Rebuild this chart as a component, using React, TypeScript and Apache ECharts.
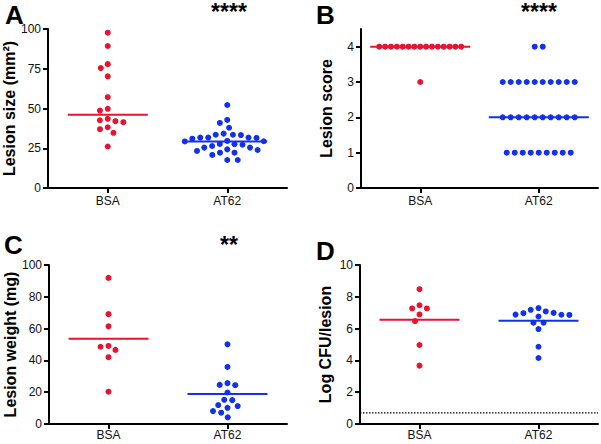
import React, { useEffect, useRef } from "react";
import * as echarts from "echarts";

// ---------- data ----------
const categories = ["BSA", "AT62"];

const sizeBSA = [97.7, 89.3, 77.9, 75.4, 70.2, 57.1, 49.8, 48.7, 43.5, 42.6, 42.0, 41.4, 38.2, 37.0, 34.7, 26.1];
const sizeAT62 = [52.2, 40.9, 42.8, 37.9, 33.5, 33.5, 34.2, 33.3, 31.7, 31.5, 31.7, 31.7, 31.0, 29.6, 29.3, 29.4,
  27.5, 26.4, 27.2, 27.7, 25.4, 23.9, 23.3, 24.3, 25.4, 22.2, 20.8, 22.2, 17.6, 17.6];
const sizeLines = [46.0, 29.3];

const scoreBSA = [4, 4, 4, 4, 4, 4, 4, 4, 4, 4, 4, 4, 4, 4, 4, 3];
const scoreAT62 = [4, 4, 3, 3, 3, 3, 3, 3, 3, 3, 3, 3, 2, 2, 2, 2, 2, 2, 2, 2, 2, 2, 1, 1, 1, 1, 1, 1, 1, 1, 1];
const scoreLines = [4, 2];

const weightBSA = [91.9, 69.1, 61.4, 48.6, 46.6, 49.1, 42.0, 20.3];
const weightAT62 = [50.1, 35.9, 24.6, 25.7, 24.4, 19.8, 15.2, 11.9, 15.0, 11.3, 10.2, 8.1, 7.1, 4.2];
const weightLines = [53.6, 18.8];

const cfuBSA = [8.48, 7.27, 7.27, 7.47, 6.89, 6.47, 4.97, 3.67];
const cfuAT62 = [7.18, 6.97, 6.87, 6.86, 6.88, 6.99, 7.08, 7.29, 6.37, 6.76, 6.37, 5.97, 4.86, 4.15];
const cfuLines = [6.56, 6.49];
const cfuDetectionLimit = 0.7;

const sizeTicks = [0, 25, 50, 75, 100];
const scoreTicks = [0, 1, 2, 3, 4];
const weightTicks = [0, 20, 40, 60, 80, 100];
const cfuTicks = [0, 2, 4, 6, 8, 10];

// ---------- styles ----------
const RED = "#e8132f";
const BLUE = "#1230ee";
const FONT = "Liberation Sans, Arial, Helvetica, sans-serif";
const DOT = 6;

// greedy beeswarm (pixel space), returns px offsets
function swarm(values: number[], pxPerUnit: number, dia: number): number[] {
  const order = values.map((_, i) => i).sort((a, b) => values[b] - values[a]);
  const placed: { x: number; y: number }[] = [];
  const out = new Array(values.length).fill(0);
  for (const i of order) {
    const y = values[i] * pxPerUnit;
    const cands = [0];
    for (const p of placed) {
      const dy = Math.abs(p.y - y);
      if (dy < dia) {
        const dx = Math.sqrt(dia * dia - dy * dy);
        cands.push(p.x - dx, p.x + dx);
      }
    }
    cands.sort((a, b) => Math.abs(a) - Math.abs(b) || a - b);
    let best = 0;
    for (const c of cands) {
      if (placed.every((p) => (p.x - c) ** 2 + (p.y - y) ** 2 >= dia * dia - 0.01)) {
        best = c;
        break;
      }
    }
    placed.push({ x: best, y });
    out[i] = best;
  }
  return out;
}

// rows of tied values, centred
function rows(values: number[], spacing: number, maxSpan: number): number[] {
  const out = new Array(values.length).fill(0);
  const groups = new Map<number, number[]>();
  values.forEach((v, i) => {
    if (!groups.has(v)) groups.set(v, []);
    groups.get(v)!.push(i);
  });
  groups.forEach((idx) => {
    const n = idx.length;
    const s = n > 1 ? Math.min(spacing, maxSpan / (n - 1)) : 0;
    idx.forEach((i, k) => (out[i] = (k - (n - 1) / 2) * s));
  });
  return out;
}

type Panel = {
  grid: { left: number; top: number; width: number; height: number };
  groups: number[][];
  lines: number[];
  lineHalfPx: number;
  ticks: number[];
  max: number;
  name: string;
  nameGap: number;
  labelMargin: number;
  mode: "swarm" | "rows";
  limit?: number;
};

const panels: Panel[] = [
  { grid: { left: 48, top: 29, width: 239, height: 159 }, groups: [sizeBSA, sizeAT62], lines: sizeLines, lineHalfPx: 40,
    ticks: sizeTicks, max: 100, name: "Lesion size (mm²)", nameGap: 27, labelMargin: 7, mode: "swarm" },
  { grid: { left: 361, top: 29, width: 237, height: 159 }, groups: [scoreBSA, scoreAT62], lines: scoreLines, lineHalfPx: 50,
    ticks: scoreTicks, max: 4.5, name: "Lesion score", nameGap: 27, labelMargin: 7, mode: "rows" },
  { grid: { left: 49, top: 265, width: 238, height: 159 }, groups: [weightBSA, weightAT62], lines: weightLines, lineHalfPx: 40,
    ticks: weightTicks, max: 100, name: "Lesion weight (mg)", nameGap: 27, labelMargin: 5, mode: "swarm" },
  { grid: { left: 360, top: 265, width: 238, height: 159 }, groups: [cfuBSA, cfuAT62], lines: cfuLines, lineHalfPx: 40,
    ticks: cfuTicks, max: 10, name: "Log CFU/lesion", nameGap: 27, labelMargin: 5, mode: "swarm", limit: cfuDetectionLimit },
];

function buildOption() {
  const grid: any[] = [];
  const xAxis: any[] = [];
  const yAxis: any[] = [];
  const series: any[] = [];
  const catPos = [0.5, 1.5];

  panels.forEach((p, pi) => {
    grid.push({ ...p.grid, outerBoundsMode: "none", containLabel: false });
    const pxPerX = p.grid.width / 2;
    const pxPerY = p.grid.height / p.max;
    xAxis.push({
      type: "value", gridIndex: pi, min: 0, max: 2,
      splitLine: { show: false },
      axisLine: { show: true, lineStyle: { color: "#000", width: 2 } },
      axisTick: { show: true, length: 5, lineStyle: { color: "#000", width: 2 }, customValues: catPos },
      axisLabel: {
        show: true, customValues: catPos, margin: p.labelMargin, fontSize: 12, color: "#111", fontFamily: FONT,
        formatter: (v: number) => (Math.abs(v - 0.5) < 1e-6 ? categories[0] : Math.abs(v - 1.5) < 1e-6 ? categories[1] : ""),
      },
    });
    yAxis.push({
      type: "value", gridIndex: pi, min: 0, max: p.max,
      splitLine: { show: false },
      axisLine: { show: true, lineStyle: { color: "#000", width: 2 } },
      axisTick: { show: true, length: 5, lineStyle: { color: "#000", width: 2 }, customValues: p.ticks },
      axisLabel: { show: true, customValues: p.ticks, margin: 7, fontSize: 12, color: "#111", fontFamily: FONT },
      name: p.name, nameLocation: "middle", nameGap: p.nameGap,
      nameTextStyle: { fontSize: 16, fontWeight: "bold", color: "#000", fontFamily: FONT },
    });

    p.groups.forEach((vals, gi) => {
      const color = gi === 0 ? RED : BLUE;
      const offs = p.mode === "rows" ? rows(vals, 8, 82) : swarm(vals, pxPerY, 8);
      const h = p.lineHalfPx / pxPerX;
      series.push({
        type: "line", xAxisIndex: pi, yAxisIndex: pi, symbol: "none", silent: true, z: 2,
        data: [[catPos[gi] - h, p.lines[gi]], [catPos[gi] + h, p.lines[gi]]],
        lineStyle: { color, width: 2 },
      });
      series.push({
        type: "scatter", xAxisIndex: pi, yAxisIndex: pi, symbolSize: DOT, z: 3,
        itemStyle: { color, opacity: 1 },
        data: vals.map((v, i) => [catPos[gi] + offs[i] / pxPerX, v]),
      });
    });
    if (p.limit !== undefined) {
      series.push({
        type: "line", xAxisIndex: pi, yAxisIndex: pi, symbol: "none", silent: true, z: 1,
        data: [[0, p.limit], [2, p.limit]],
        lineStyle: { color: "#000", width: 1.2, type: [1.5, 1.5] },
      });
    }
  });

  const letter = (t: string, x: number, y: number) => ({
    type: "text", x, y,
    style: { text: t, font: `bold 26px ${FONT}`, fill: "#000", textVerticalAlign: "top" },
  });
  const stars = (t: string, x: number, y: number) => ({
    type: "text", x, y,
    style: { text: t, font: `bold 23px ${FONT}`, fill: "#000", textAlign: "center", textVerticalAlign: "top" },
  });

  return {
    animation: false,
    backgroundColor: "#fff",
    grid, xAxis, yAxis, series,
    graphic: [
      letter("A", 5, 2),
      letter("B", 316, 2),
      letter("C", 4, 232),
      letter("D", 316, 238),
      stars("****", 229, 0),
      stars("****", 539, 0),
      stars("**", 229, 233),
    ],
  };
}

export default function App() {
  const ref = useRef<HTMLDivElement>(null);
  useEffect(() => {
    if (!ref.current) return;
    const chart = echarts.init(ref.current, undefined, { renderer: "svg" });
    chart.setOption(buildOption() as any);
    return () => chart.dispose();
  }, []);
  return <div ref={ref} style={{ position: "fixed", left: 0, top: 0, width: 601, height: 444, background: "#fff" }} />;
}
